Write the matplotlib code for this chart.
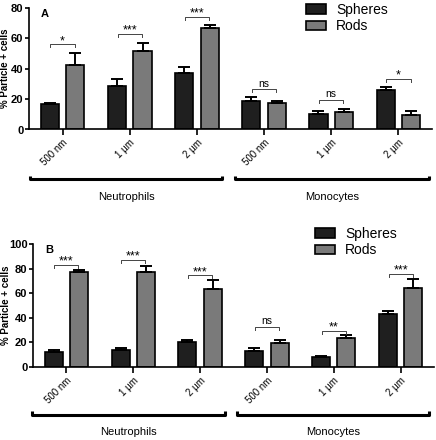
import matplotlib
matplotlib.use('Agg')
import matplotlib.pyplot as plt
import matplotlib.patches as mpatches
import numpy as np

plt.rcParams['font.family'] = ['Liberation Sans', 'DejaVu Sans']

sizes = ['500 nm', '1 µm', '2 µm', '500 nm', '1 µm', '2 µm']
groups = ['Neutrophils', 'Monocytes']

# panel A
spheres_a = [16.5, 28.5, 37.5, 18.5, 10.5, 26.0]
spheres_a_err = [1.0, 4.5, 3.5, 2.8, 1.8, 1.8]
rods_a = [42.5, 52.0, 67.0, 17.5, 11.5, 9.5]
rods_a_err = [8.0, 5.0, 1.8, 1.5, 2.0, 2.8]
sig_a = ['*', '***', '***', 'ns', 'ns', '*']
sig_a_y = [56, 63, 74, 26.5, 19.5, 33.5]

# panel B
spheres_b = [12.0, 13.5, 20.0, 13.0, 8.0, 43.0]
spheres_b_err = [1.5, 2.0, 2.2, 2.5, 1.3, 2.5]
rods_b = [77.0, 77.0, 63.5, 19.5, 23.8, 64.0]
rods_b_err = [1.8, 5.5, 7.0, 2.5, 2.0, 7.5]
sig_b = ['***', '***', '***', 'ns', '**', '***']
sig_b_y = [83, 87, 74.5, 32.5, 29.5, 76]

dark = '#1f1f1f'
grey = '#7a7a7a'


def draw_panel(ax, sph, sph_err, rod, rod_err, sig, sig_y, ymax, letter, ylab_x):
    x = np.arange(len(sizes))
    w = 0.27
    off = 0.19
    ax.bar(x - off, sph, w, color=dark, edgecolor='black', linewidth=1.2)
    ax.bar(x + off, rod, w, color=grey, edgecolor='black', linewidth=1.2)
    ax.errorbar(x - off, sph, yerr=[np.zeros(len(sph)), sph_err], fmt='none',
                ecolor='black', elinewidth=1.4, capsize=4.5, capthick=1.4)
    ax.errorbar(x + off, rod, yerr=[np.zeros(len(rod)), rod_err], fmt='none',
                ecolor='black', elinewidth=1.4, capsize=4.5, capthick=1.4)

    drop = 0.025 * ymax
    for i in range(len(sizes)):
        x0, x1 = i - 0.18, i + 0.18
        y = sig_y[i]
        ax.plot([x0, x0, x1, x1], [y - drop, y, y, y - drop], color='#444444', lw=0.7)
        if sig[i] == 'ns':
            ax.text(i, y + 0.2 * drop, 'ns', ha='center', va='bottom', fontsize=7.5)
        else:
            ax.text(i, y - 0.9 * drop, sig[i], ha='center', va='bottom', fontsize=9)

    ax.set_xlim(-0.5, 5.5)
    ax.set_ylim(0, ymax)
    ax.set_yticks(np.arange(0, ymax + 1, 20))
    ax.set_xticks(x)
    ax.set_xticklabels(sizes, rotation=45, ha='right', rotation_mode='anchor', fontsize=7)
    for lab in ax.get_yticklabels():
        lab.set_fontweight('bold')
        lab.set_fontsize(8)
    ax.tick_params(axis='y', length=3, width=1.2, pad=1)
    ax.tick_params(axis='x', length=4, width=1.2, pad=2)
    ax.spines['top'].set_visible(False)
    ax.spines['right'].set_visible(False)
    ax.spines['left'].set_linewidth(1.2)
    ax.spines['bottom'].set_linewidth(1.2)
    ax.set_ylabel('% Particle + cells', fontsize=7, fontweight='bold')
    ax.yaxis.set_label_coords(ylab_x, 0.5)
    ax.text(0.03, 0.99, letter, transform=ax.transAxes, fontsize=8, fontweight='bold',
            ha='left', va='top')


def group_brackets(ax, ybr, ylab, spans):
    tr = ax.get_xaxis_transform()
    for (a, b), name in zip(spans, groups):
        ax.plot([a, a, b, b], [ybr + 0.03, ybr, ybr, ybr + 0.03], color='black', lw=2.2,
                transform=tr, clip_on=False, solid_capstyle='butt')
        ax.text((a + b) / 2, ylab, name, transform=tr, ha='center', va='center', fontsize=8)


fig = plt.figure(figsize=(4.36, 4.40), dpi=100)
ax_a = fig.add_axes([29 / 436, 1 - 129.5 / 440, 403 / 436, 121.5 / 440])
ax_b = fig.add_axes([33 / 436, 1 - 367 / 440, 401 / 436, 123 / 440])

draw_panel(ax_a, spheres_a, spheres_a_err, rods_a, rods_a_err, sig_a, sig_a_y, 80, 'A', -0.047)
draw_panel(ax_b, spheres_b, spheres_b_err, rods_b, rods_b_err, sig_b, sig_b_y, 100, 'B', -0.056)

group_brackets(ax_a, -0.41, -0.556, [(-0.48, 2.38), (2.57, 5.45)])
group_brackets(ax_b, -0.39, -0.53, [(-0.52, 2.37), (2.55, 5.43)])

handles = [mpatches.Patch(facecolor=dark, edgecolor='black', linewidth=1.2, label='Spheres'),
           mpatches.Patch(facecolor=grey, edgecolor='black', linewidth=1.2, label='Rods')]
for anchor in [(306 / 436, 1 - 3 / 440), (315 / 436, 1 - 227 / 440)]:
    fig.legend(handles=handles, loc='upper left', bbox_to_anchor=anchor, frameon=False,
               fontsize=10, borderpad=0, borderaxespad=0, handlelength=1.45,
               handleheight=0.65, handletextpad=0.7, labelspacing=0.15)

fig.savefig('out.png', dpi=100)
